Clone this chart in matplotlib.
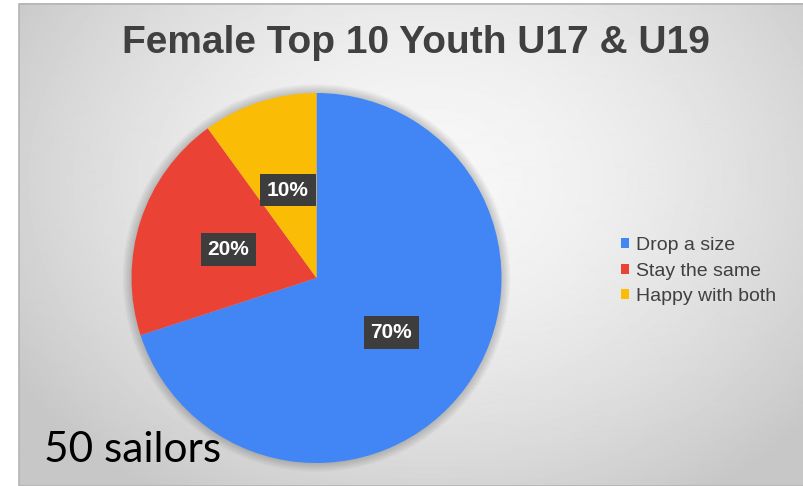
import numpy as np
import matplotlib
matplotlib.use("Agg")
import matplotlib.pyplot as plt
from matplotlib.patches import Circle, Rectangle

# chart data
categories = ["Drop a size", "Stay the same", "Happy with both"]
shares = [70, 20, 10]
colors = ["#4285F4", "#EA4335", "#FBBC05"]
title = "Female Top 10 Youth U17 & U19"
note = "50 sailors"

W, H = 804, 486
fig = plt.figure(figsize=(W / 100, H / 100), dpi=100)
fig.patch.set_facecolor("white")

# background panel with a soft radial gradient
bg = fig.add_axes([0, 0, 1, 1])
bg.set_xlim(0, W)
bg.set_ylim(H, 0)
bg.axis("off")
x0, y0 = 19, 4
yy, xx = np.mgrid[y0:H, x0:W]
d = np.sqrt(((xx - 430) / 440.0) ** 2 + ((yy - 180) / 340.0) ** 2)
shade = np.clip(0.97 - 0.16 * d ** 1.6, 0.78, 1.0)
bg.imshow(shade, cmap="gray", vmin=0, vmax=1, extent=[x0, W, H, y0],
          interpolation="bilinear", aspect="auto")
bg.add_patch(Rectangle((x0, y0), W - x0, H - y0, fill=False,
                       edgecolor="#b4b4b4", linewidth=1.2))

# title and note
fig.text(416 / W, 1 - 43 / H, title, ha="center", va="center",
         fontsize=28, fontweight="bold", color="#404040",
         family="Liberation Sans")
fig.text(44 / W, 1 - 450 / H, note, ha="left", va="center",
         fontsize=30.5, color="black", family="Lato")

# pie axes: centre (316.5, 278), radius 185 px, limits padded for the shadow
cx, cy, r = 316.5, 278, 185
pad = 1.1
R = r * pad
ax = fig.add_axes([(cx - R) / W, (H - cy - R) / H, 2 * R / W, 2 * R / H])
ax.set_facecolor("none")
ax.axis("off")

# soft shadow around the pie
for k in range(8):
    ax.add_patch(Circle((0, 0), 1.0 + 0.006 * (k + 1), color="black",
                        alpha=0.025, lw=0, zorder=0))

wedges, texts, autotexts = ax.pie(
    shares, colors=colors, startangle=90, counterclock=False,
    autopct="%d%%", pctdistance=0.5,
    wedgeprops=dict(linewidth=0),
    textprops=dict(color="white", fontsize=15, fontweight="bold",
                   family="Liberation Sans"),
)
for t in autotexts:
    t.set_bbox(dict(boxstyle="square,pad=0.33", facecolor="#3d3d3d",
                    edgecolor="none"))
ax.set_xlim(-pad, pad)
ax.set_ylim(-pad, pad)
ax.set_aspect("equal")

leg = fig.legend(wedges, categories, loc="center left",
                 bbox_to_anchor=(621 / W, 1 - 271 / H), frameon=False,
                 borderpad=0, borderaxespad=0,
                 handlelength=0.42, handleheight=0.42, handletextpad=0.36,
                 labelspacing=0.45, prop=dict(family="Liberation Sans", size=14))
for t in leg.get_texts():
    t.set_color("#404040")

fig.savefig("out.png", dpi=100)
